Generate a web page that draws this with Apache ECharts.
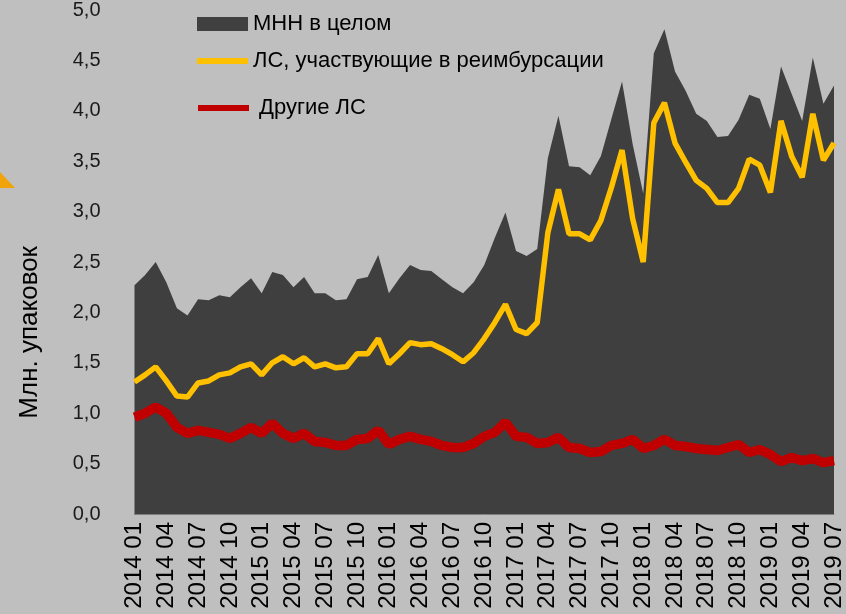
<!DOCTYPE html>
<html>
<head>
<meta charset="utf-8">
<script src="https://cdn.jsdelivr.net/npm/echarts@6/dist/echarts.min.js"></script>
<style>
  html, body { margin: 0; padding: 0; background: #bfbfbf; }
  #chart { width: 846px; height: 614px; }
</style>
</head>
<body>
<div id="chart"></div>
<script>
// months 2014 01 .. 2019 07
let months = []
for (let y = 2014; y <= 2019; y++) {
    for (let m = 1; m <= 12; m++) {
        if (y === 2019 && m > 7) break
        months.push(y + ' ' + (m < 10 ? '0' + m : m))
    }
}

let yTicks = [0, 0.5, 1, 1.5, 2, 2.5, 3, 3.5, 4, 4.5, 5]

// млн упаковок
let mnnTotal = [
    2.27, 2.37, 2.50, 2.30, 2.04, 1.97, 2.13, 2.12, 2.17, 2.15, 2.25, 2.34,
    2.19, 2.40, 2.37, 2.25, 2.35, 2.19, 2.19, 2.12, 2.13, 2.33, 2.35, 2.57,
    2.19, 2.34, 2.47, 2.42, 2.41, 2.33, 2.25, 2.19, 2.30, 2.47, 2.74, 2.99,
    2.61, 2.56, 2.63, 3.53, 3.95, 3.45, 3.44, 3.36, 3.55, 3.92, 4.29, 3.67,
    3.18, 4.57, 4.81, 4.39, 4.20, 3.97, 3.90, 3.74, 3.75, 3.91, 4.16, 4.12,
    3.82, 4.44, 4.17, 3.90, 4.53, 4.07, 4.25
]
let reimbursed = [
    1.31, 1.38, 1.46, 1.32, 1.17, 1.16, 1.30, 1.32, 1.38, 1.40, 1.46, 1.49,
    1.38, 1.50, 1.56, 1.49, 1.55, 1.46, 1.49, 1.45, 1.46, 1.59, 1.59, 1.74,
    1.49, 1.59, 1.70, 1.68, 1.69, 1.64, 1.58, 1.51, 1.60, 1.74, 1.90, 2.08,
    1.83, 1.79, 1.90, 2.79, 3.22, 2.78, 2.78, 2.72, 2.91, 3.24, 3.61, 2.93,
    2.50, 3.88, 4.08, 3.68, 3.49, 3.31, 3.23, 3.09, 3.09, 3.23, 3.52, 3.46,
    3.19, 3.90, 3.55, 3.34, 3.97, 3.51, 3.68
]
let otherDrugs = [
    0.96, 1.00, 1.06, 1.00, 0.86, 0.80, 0.83, 0.81, 0.79, 0.75, 0.80, 0.86,
    0.80, 0.90, 0.80, 0.75, 0.80, 0.72, 0.71, 0.68, 0.68, 0.74, 0.75, 0.83,
    0.69, 0.74, 0.77, 0.74, 0.72, 0.68, 0.66, 0.66, 0.70, 0.77, 0.81, 0.91,
    0.77, 0.76, 0.70, 0.71, 0.76, 0.66, 0.65, 0.61, 0.62, 0.68, 0.70, 0.74,
    0.65, 0.68, 0.74, 0.68, 0.67, 0.65, 0.64, 0.63, 0.66, 0.69, 0.61, 0.64,
    0.59, 0.52, 0.56, 0.53, 0.55, 0.51, 0.53
]

let font = "'Liberation Sans', Arial, sans-serif"
let myChart = echarts.init(document.getElementById('chart'))

let option = {
    animation: false,
    backgroundColor: '#bfbfbf',
    textStyle: {fontFamily: font},
    grid: {left: 134.5, right: 5.3, top: 9, bottom: 100, containLabel: false},
    legend: [
        {
            data: [{name: 'МНН в целом', icon: 'rect', itemStyle: {color: '#404040'}}],
            left: 197, top: 13, padding: 0,
            itemWidth: 51, itemHeight: 14,
            textStyle: {fontSize: 22, color: '#000', fontFamily: font}
        },
        {
            data: [{name: 'ЛС, участвующие в реимбурсации', icon: 'rect', itemStyle: {color: '#ffc000'}}],
            left: 197, top: 50, padding: 0,
            itemWidth: 51, itemHeight: 6,
            textStyle: {fontSize: 22, color: '#000', fontFamily: font}
        },
        {
            data: [{name: 'Другие ЛС', icon: 'rect', itemStyle: {color: '#c00000'}}],
            left: 198, top: 97, padding: 0,
            itemWidth: 51, itemHeight: 6,
            textStyle: {fontSize: 22, color: '#000', fontFamily: font, padding: [0, 0, 14, 5]}
        }
    ],
    xAxis: {
        type: 'category',
        data: months,
        boundaryGap: false,
        axisLine: {show: true, lineStyle: {color: '#7f7f7f', width: 1}},
        axisTick: {show: false},
        axisLabel: {
            interval: 2,
            rotate: 90,
            margin: 8,
            fontSize: 24,
            color: '#000',
            fontFamily: font
        }
    },
    yAxis: {
        type: 'value',
        min: yTicks[0],
        max: yTicks[yTicks.length - 1],
        interval: 0.5,
        axisLine: {show: false},
        axisTick: {show: false},
        splitLine: {show: false},
        axisLabel: {
            margin: 34,
            fontSize: 20,
            color: '#1a1a1a',
            fontFamily: font,
            formatter: function (v) { return v.toFixed(1).replace('.', ',') }
        }
    },
    graphic: [
        {
            type: 'text',
            left: 17, top: 246,
            rotation: Math.PI / 2,
            style: {text: 'Млн. упаковок', fill: '#000', font: '26px ' + font}
        },
        {
            type: 'polygon',
            shape: {points: [[0, 172], [15, 188], [0, 188]]},
            style: {fill: '#f0a30a'}
        }
    ],
    series: [
        {
            name: 'МНН в целом',
            type: 'line',
            data: mnnTotal,
            showSymbol: false,
            lineStyle: {width: 0, color: '#404040'},
            itemStyle: {color: '#404040'},
            areaStyle: {color: '#3f3f3f', opacity: 1},
            z: 1
        },
        {
            name: 'ЛС, участвующие в реимбурсации',
            type: 'line',
            data: reimbursed,
            showSymbol: false,
            lineStyle: {width: 5.5, color: '#ffc000'},
            itemStyle: {color: '#ffc000'},
            z: 3
        },
        {
            name: 'Другие ЛС',
            type: 'line',
            data: otherDrugs,
            showSymbol: false,
            lineStyle: {width: 9.5, color: '#c00000'},
            itemStyle: {color: '#c00000'},
            z: 4
        }
    ]
}

myChart.setOption(option)
</script>
</body>
</html>
